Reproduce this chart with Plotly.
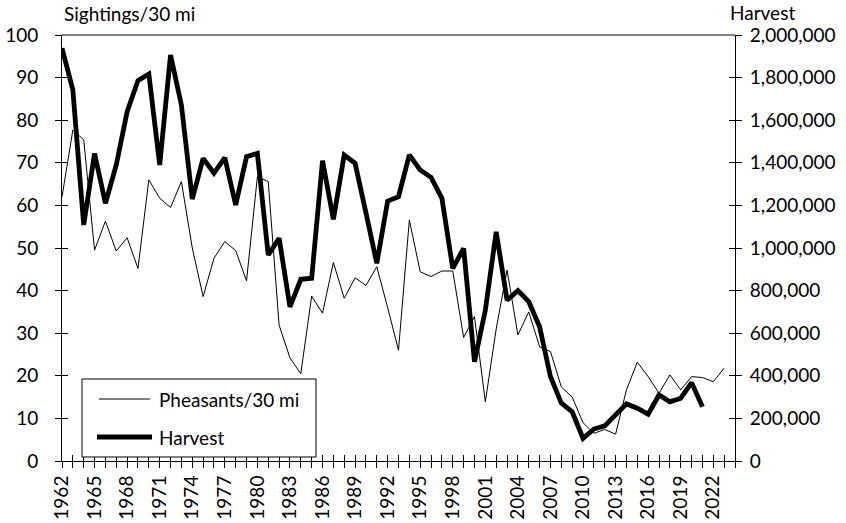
import plotly.graph_objects as go

years = list(range(1962, 2024))
pheasants = [62, 77.7, 75.4, 49.5, 56.3, 49.3, 52.4, 45.2, 66, 61.7,
             59.5, 65.6, 50, 38.6, 47.6, 51.5, 49.4, 42.3, 66.7, 65.6,
             31.9, 24.2, 20.5, 38.7, 34.7, 46.6, 38.2, 43, 41.2, 45.6,
             36, 26, 56.6, 44.4, 43.3, 44.6, 44.6, 29, 33.9, 13.9,
             31, 44.8, 29.6, 35, 26.8, 25.7, 17.4, 15, 9, 6.5,
             7.4, 6.3, 16.7, 23.2, 19.8, 15.9, 20.2, 16.7, 19.8, 19.6, 18.6, 21.8]
harvest_years = list(range(1962, 2022))
harvest = [1938000, 1742000, 1108000, 1444000, 1210000, 1390000, 1640000, 1786000, 1817000, 1390000,
           1906000, 1671000, 1230000, 1421000, 1351000, 1424000, 1202000, 1429000, 1444000, 967000,
           1046000, 724000, 853000, 858000, 1410000, 1135000, 1436000, 1398000, 1165000, 928000,
           1220000, 1241000, 1437000, 1366000, 1332000, 1233000, 904000, 998000, 466000, 708000,
           1076000, 755000, 800000, 748000, 630000, 396000, 272000, 231000, 106000, 150000,
           165000, 215000, 268000, 248000, 220000, 310000, 278000, 295000, 368000, 255000]
x_labels = [str(y) for y in range(1962, 2023, 3)]
left_ticks = list(range(0, 101, 10))
right_ticks = list(range(0, 2000001, 200000))
series_names = ["Pheasants/30 mi", "Harvest"]

FONT = "Lato"
fs = 19
xr = [1962, 2024]
tick_years = years + [2024]
tick_text = [(str(y) if str(y) in x_labels else "") for y in tick_years]
THIN, THICK = 1, 4.8

fig = go.Figure()
fig.add_trace(go.Scatter(x=years, y=pheasants, mode="lines", name=series_names[0],
                         line=dict(color="black", width=THIN), yaxis="y"))
fig.add_trace(go.Scatter(x=harvest_years, y=harvest, mode="lines", name=series_names[1],
                         line=dict(color="black", width=THICK), yaxis="y2"))
# invisible helpers for inner tick marks
fig.add_trace(go.Scatter(x=[1962], y=[0], xaxis="x2", yaxis="y3", mode="markers",
                         marker=dict(opacity=0), showlegend=False, hoverinfo="skip"))
fig.add_trace(go.Scatter(x=[1962], y=[0], xaxis="x2", yaxis="y4", mode="markers",
                         marker=dict(opacity=0), showlegend=False, hoverinfo="skip"))

axis_col = "#000000"

# manual legend (paper coordinates)
shapes = [
    dict(type="line", xref="paper", yref="paper", x0=0, x1=1, y0=1, y1=1,
         line=dict(color="#595959", width=1.5)),
    dict(type="rect", xref="paper", yref="paper", x0=0.0297, x1=0.3774, y0=0.0094, y1=0.1925,
         fillcolor="white", line=dict(color="black", width=1), layer="above"),
    dict(type="line", xref="paper", yref="paper", x0=0.055, x1=0.1308, y0=0.1455, y1=0.1455,
         line=dict(color="black", width=THIN), layer="above"),
    dict(type="line", xref="paper", yref="paper", x0=0.052, x1=0.1337, y0=0.0563, y1=0.0563,
         line=dict(color="black", width=THICK), layer="above"),
]

fig.update_layout(
    width=846, height=523,
    margin=dict(l=62, r=111, t=35, b=62),
    paper_bgcolor="white", plot_bgcolor="white",
    font=dict(family=FONT, size=fs, color="black"),
    showlegend=False,
    xaxis=dict(range=xr, showgrid=False, zeroline=False, showline=True, linecolor=axis_col,
               linewidth=1, ticks="outside", ticklen=6, tickcolor=axis_col,
               tickvals=tick_years, ticktext=tick_text, automargin=False,
               tickangle=-90, tickfont=dict(size=fs)),
    xaxis2=dict(range=xr, overlaying="x", anchor="y", side="bottom", showgrid=False,
                zeroline=False, showline=False, ticks="inside", ticklen=6, tickcolor=axis_col,
                tickvals=tick_years, showticklabels=False, automargin=False),
    yaxis=dict(range=[0, 100], tickvals=left_ticks, showgrid=False, zeroline=False,
               showline=True, linecolor=axis_col, linewidth=1, ticks="outside", ticklen=6,
               tickcolor=axis_col, ticklabelstandoff=13, automargin=False),
    yaxis2=dict(range=[0, 2000000], tickvals=right_ticks, tickformat=",d", overlaying="y",
                side="right", anchor="x", showgrid=False, zeroline=False, showline=True,
                linecolor=axis_col, linewidth=1, ticks="outside", ticklen=6, tickcolor=axis_col,
                ticklabelstandoff=4, automargin=False),
    yaxis3=dict(range=[0, 100], tickvals=left_ticks, overlaying="y", side="left", anchor="x2",
                showgrid=False, zeroline=False, showline=False, ticks="inside", ticklen=6,
                tickcolor=axis_col, showticklabels=False, automargin=False),
    yaxis4=dict(range=[0, 100], tickvals=left_ticks, overlaying="y", side="right", anchor="x2",
                showgrid=False, zeroline=False, showline=False, ticks="inside", ticklen=6,
                tickcolor=axis_col, showticklabels=False, automargin=False),
    shapes=shapes,
    annotations=[
        dict(text="Sightings/30 mi", xref="paper", yref="paper", x=0.0, y=1.0,
             xanchor="left", yanchor="bottom", showarrow=False, yshift=8,
             font=dict(size=fs)),
        dict(text="Harvest", xref="paper", yref="paper", x=1.0, y=1.0, xshift=62,
             xanchor="right", yanchor="bottom", showarrow=False, yshift=9,
             font=dict(size=fs)),
        dict(text=series_names[0], xref="paper", yref="paper", x=0.1412, y=0.1455,
             xanchor="left", yanchor="middle", showarrow=False, font=dict(size=fs)),
        dict(text=series_names[1], xref="paper", yref="paper", x=0.1412, y=0.0563,
             xanchor="left", yanchor="middle", showarrow=False, font=dict(size=fs)),
    ],
)

fig.write_html("out.html", config={"displayModeBar": False},
               post_script="document.body.style.margin='0';document.body.style.padding='0';")
